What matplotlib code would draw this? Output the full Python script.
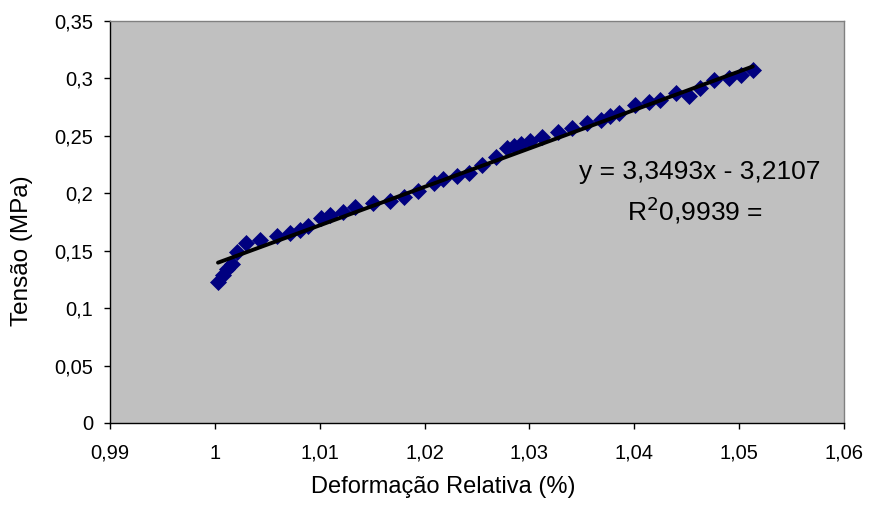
import matplotlib
matplotlib.use("Agg")
import matplotlib.pyplot as plt
from matplotlib.ticker import FixedLocator, FuncFormatter

plt.rcParams['font.family'] = ['Liberation Sans', 'DejaVu Sans']

# Data
deformacao = [1.0003, 1.0008, 1.0012, 1.0016, 1.0021, 1.0030, 1.0043, 1.0059,
              1.0072, 1.0081, 1.0089, 1.0101, 1.0110, 1.0122, 1.0134, 1.0151,
              1.0167, 1.0180, 1.0194, 1.0209, 1.0218, 1.0231, 1.0242, 1.0255,
              1.0268, 1.0279, 1.0285, 1.0292, 1.0301, 1.0312, 1.0327, 1.0341,
              1.0355, 1.0368, 1.0377, 1.0385, 1.0401, 1.0414, 1.0425, 1.0440,
              1.0452, 1.0463, 1.0476, 1.0490, 1.0502, 1.0513]
tensao = [0.1230, 0.1289, 0.1338, 0.1382, 0.1491, 0.1565, 0.1593, 0.1628,
          0.1652, 0.1680, 0.1715, 0.1782, 0.1811, 0.1840, 0.1878, 0.1918,
          0.1933, 0.1965, 0.2022, 0.2092, 0.2122, 0.2150, 0.2174, 0.2246,
          0.2313, 0.2392, 0.2412, 0.2429, 0.2458, 0.2487, 0.2536, 0.2566,
          0.2609, 0.2638, 0.2673, 0.2702, 0.2769, 0.2797, 0.2812, 0.2870,
          0.2847, 0.2914, 0.2986, 0.3001, 0.3030, 0.3073]

slope = 3.3493
intercept = -3.2107

x_ticks = [0.99, 1.00, 1.01, 1.02, 1.03, 1.04, 1.05, 1.06]
y_ticks = [0, 0.05, 0.10, 0.15, 0.20, 0.25, 0.30, 0.35]

fig = plt.figure(figsize=(8.69, 5.12), dpi=100)
ax = fig.add_axes([110/869, 1 - 423/512, (844 - 110)/869, (423 - 21)/512])
ax.set_facecolor('#C0C0C0')

ax.plot(deformacao, tensao, linestyle='none', marker='D', markersize=8,
        color='#000080', markeredgecolor='#000080', markeredgewidth=0.5, zorder=2)

x_fit = [min(deformacao), max(deformacao)]
y_fit = [slope * v + intercept for v in x_fit]
ax.plot(x_fit, y_fit, color='black', linewidth=2.8, solid_capstyle='round', zorder=3)

ax.set_xlim(0.99, 1.06)
ax.set_ylim(0, 0.35)
ax.xaxis.set_major_locator(FixedLocator(x_ticks))
ax.yaxis.set_major_locator(FixedLocator(y_ticks))


def fmt(v, pos=None):
    s = ('%.2f' % v).rstrip('0').rstrip('.')
    return s.replace('.', ',')


ax.xaxis.set_major_formatter(FuncFormatter(fmt))
ax.yaxis.set_major_formatter(FuncFormatter(fmt))

ax.tick_params(axis='both', direction='out', length=4, width=1, color='black',
               labelsize=14.5)
ax.tick_params(axis='x', pad=11)
ax.tick_params(axis='y', pad=8)

for side in ['left', 'bottom']:
    ax.spines[side].set_color('black')
    ax.spines[side].set_linewidth(1)
for side in ['top', 'right']:
    ax.spines[side].set_color('#808080')
    ax.spines[side].set_linewidth(1)

ax.set_xlabel('Deformação Relativa (%)', fontsize=17, va='center')
ax.xaxis.set_label_coords(0.4537, -0.159)
ax.set_ylabel('Tensão (MPa)', fontsize=17.5, va='center')
ax.yaxis.set_label_coords(-0.12, 0.428)

ax.text(1.04627, 0.2185, 'y = 3,3493x - 3,2107', fontsize=19, ha='center', va='center')
ax.text(1.04579, 0.1850, r'R$^2$0,9939 =', fontsize=19, ha='center', va='center')

fig.savefig('out.png', dpi=100)
